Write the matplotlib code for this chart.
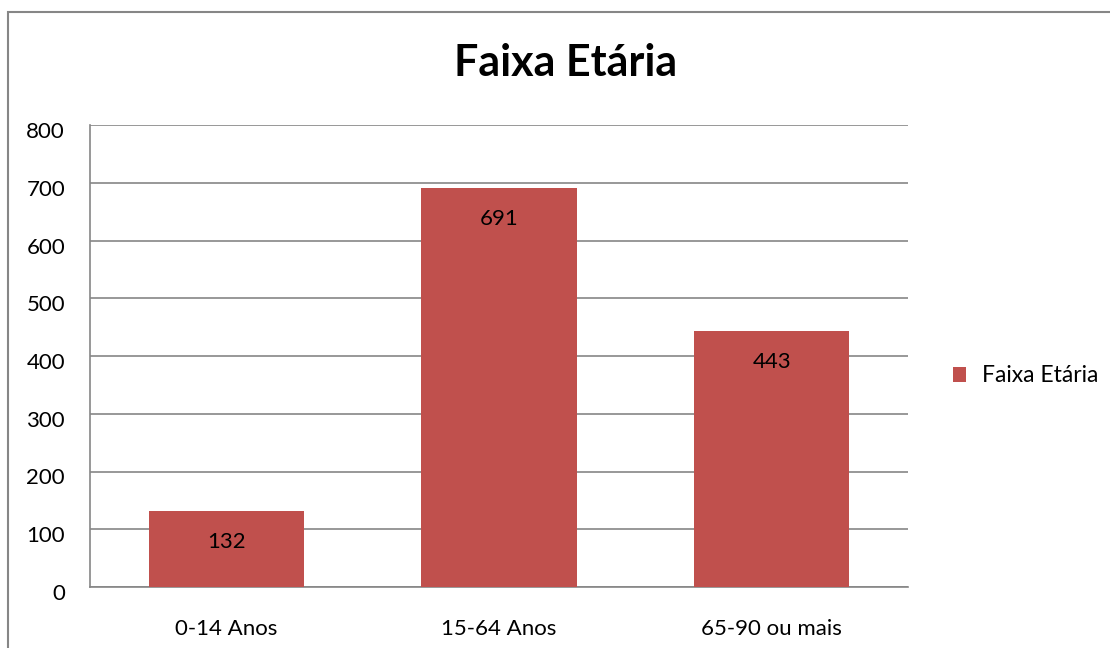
import matplotlib.pyplot as plt
import matplotlib.transforms as mtransforms
from matplotlib.patches import Rectangle

# data
categorias = ["0-14 Anos", "15-64 Anos", "65-90 ou mais"]
valores = [132, 691, 443]
serie = "Faixa Etária"
yticks = [0, 100, 200, 300, 400, 500, 600, 700, 800]

plt.rcParams['font.family'] = ['Lato', 'DejaVu Sans']

fig = plt.figure(figsize=(11.1, 6.48), dpi=100)
W, H = 1110, 648

# outer chart border (only left/top visible in the crop)
fig.patches.append(Rectangle((8 / W, -0.1), 1.2, 1 - 12 / H + 0.1,
                             transform=fig.transFigure, fill=False,
                             edgecolor="#868686", linewidth=1.5))

ax = fig.add_axes([90 / W, 1 - 587 / H, (908 - 90) / W, (587 - 125) / H])

x = range(len(categorias))
bars = ax.bar(x, valores, width=0.57, color="#C0504D", label=serie, zorder=3)

for b, v in zip(bars, valores):
    ax.annotate(str(v), (b.get_x() + b.get_width() / 2, v),
                xytext=(0, -31), textcoords="offset pixels",
                ha="center", va="center", fontsize=16, color="black", zorder=4)

ax.set_xlim(-0.5, 2.5)
ax.set_ylim(0, 800)
ax.set_yticks(yticks)
ax.set_xticks(list(x))
ax.set_xticklabels(categorias, fontsize=16)
ax.tick_params(axis="y", labelsize=16, length=0, pad=18)
ax.tick_params(axis="x", length=0, pad=23)
ax.grid(axis="y", color="#868686", linewidth=1.2, zorder=0)

# excel puts the y labels a bit below the gridline
shift = mtransforms.ScaledTranslation(0, -5 / 100, fig.dpi_scale_trans)
for lbl in ax.get_yticklabels():
    lbl.set_transform(lbl.get_transform() + shift)

for s in ["top", "right"]:
    ax.spines[s].set_visible(False)
ax.spines["left"].set_color("#868686")
ax.spines["bottom"].set_color("#868686")
ax.spines["left"].set_linewidth(1.2)
ax.spines["bottom"].set_linewidth(1.2)

fig.text(566 / W, 1 - 63 / H, "Faixa Etária", ha="center", va="center",
         fontsize=31, fontweight="bold")

fig.legend(handles=[bars], labels=[serie], loc="center left",
           bbox_to_anchor=(932 / W, 1 - 376 / H), frameon=False,
           fontsize=16.5, handlelength=0.6, handleheight=0.6, handletextpad=0.7)

fig.savefig("out.png", dpi=100)
